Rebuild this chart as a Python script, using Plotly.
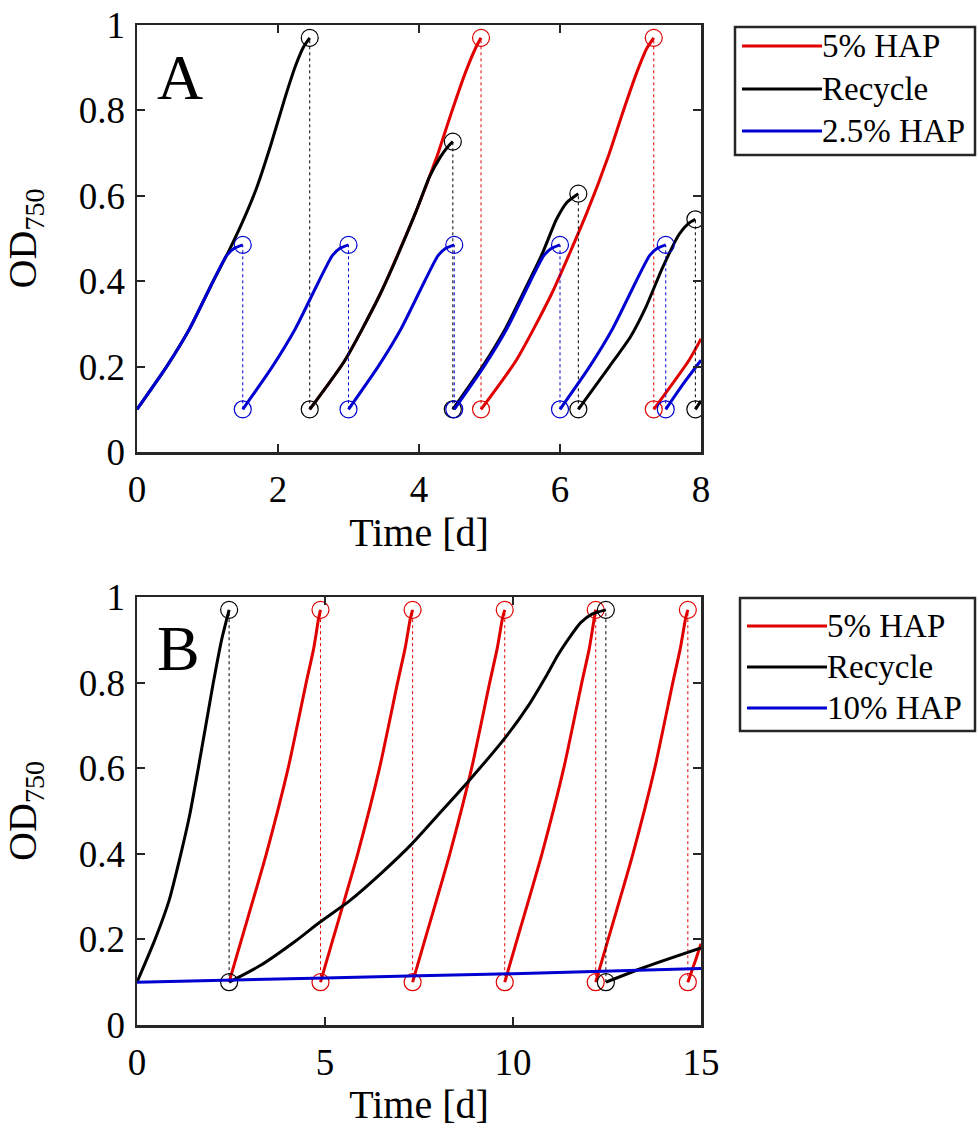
import plotly.graph_objects as go

# ---------------- colours ----------------
RED = "#e00000"
BLACK = "#000000"
BLUE = "#0000d0"
FRAME = "#262626"
FONT = "Liberation Serif, Times New Roman, DejaVu Serif, serif"

# ---------------- Panel A data (Time [d], OD750) ----------------
A_red_t = [[2.45, 2.95, 3.45, 3.95, 4.25, 4.45, 4.65, 4.8, 4.88],
           [4.88, 5.38, 5.88, 6.38, 6.68, 6.88, 7.08, 7.23, 7.33],
           [7.33, 7.83, 8.0]]
A_red_od = [[0.10, 0.215, 0.37, 0.56, 0.69, 0.79, 0.885, 0.945, 0.97],
            [0.10, 0.215, 0.37, 0.56, 0.69, 0.79, 0.885, 0.945, 0.97],
            [0.10, 0.215, 0.265]]
A_red_harvest_t = [4.88, 7.33]
A_red_harvest_top = [0.97, 0.97]

A_black_t = [[0, 0.42, 0.75, 1.08, 1.3, 1.5, 1.7, 1.9, 2.1, 2.25, 2.36, 2.45],
             [2.45, 2.95, 3.45, 3.95, 4.15, 4.3, 4.4, 4.48],
             [4.48, 4.9, 5.23, 5.56, 5.75, 5.95, 6.1, 6.26],
             [6.26, 6.7, 7.0, 7.22, 7.45, 7.69, 7.82, 7.92],
             [7.92, 8.0]]
A_black_od = [[0.10, 0.20, 0.29, 0.40, 0.47, 0.54, 0.62, 0.72, 0.83, 0.905, 0.948, 0.97],
              [0.10, 0.215, 0.37, 0.56, 0.645, 0.69, 0.713, 0.727],
              [0.10, 0.20, 0.29, 0.40, 0.465, 0.545, 0.585, 0.605],
              [0.10, 0.20, 0.27, 0.34, 0.43, 0.51, 0.535, 0.545],
              [0.10, 0.12]]
A_black_harvest_t = [2.45, 4.48, 6.26, 7.92]
A_black_harvest_top = [0.97, 0.727, 0.605, 0.545]

A_blue_t = [[0, 0.42, 0.75, 1.08, 1.27, 1.38, 1.5],
            [1.5, 1.92, 2.25, 2.58, 2.77, 2.88, 3.0],
            [3.0, 3.42, 3.75, 4.08, 4.27, 4.38, 4.5],
            [4.5, 4.92, 5.25, 5.58, 5.77, 5.88, 6.0],
            [6.0, 6.42, 6.75, 7.08, 7.27, 7.38, 7.5],
            [7.5, 7.75, 8.0]]
A_blue_od = [[0.10, 0.20, 0.29, 0.40, 0.46, 0.477, 0.485],
             [0.10, 0.20, 0.29, 0.40, 0.46, 0.477, 0.485],
             [0.10, 0.20, 0.29, 0.40, 0.46, 0.477, 0.485],
             [0.10, 0.20, 0.29, 0.40, 0.46, 0.477, 0.485],
             [0.10, 0.20, 0.29, 0.40, 0.46, 0.477, 0.485],
             [0.10, 0.16, 0.215]]
A_blue_harvest_t = [1.5, 3.0, 4.5, 6.0, 7.5]
A_blue_harvest_top = [0.485, 0.485, 0.485, 0.485, 0.485]

# ---------------- Panel B data ----------------
B_red_t = [[2.45, 2.78, 3.44, 4.02, 4.50, 4.70, 4.83, 4.88],
           [4.88, 5.21, 5.87, 6.45, 6.93, 7.13, 7.27, 7.33],
           [7.33, 7.66, 8.32, 8.90, 9.38, 9.58, 9.72, 9.78],
           [9.78, 10.11, 10.77, 11.35, 11.83, 12.03, 12.16, 12.2],
           [12.2, 12.53, 13.19, 13.77, 14.25, 14.45, 14.59, 14.65],
           [14.65, 14.85, 15.0]]
B_red_od = [[0.10, 0.20, 0.40, 0.60, 0.80, 0.88, 0.95, 0.97],
            [0.10, 0.20, 0.40, 0.60, 0.80, 0.88, 0.95, 0.97],
            [0.10, 0.20, 0.40, 0.60, 0.80, 0.88, 0.95, 0.97],
            [0.10, 0.20, 0.40, 0.60, 0.80, 0.88, 0.95, 0.97],
            [0.10, 0.20, 0.40, 0.60, 0.80, 0.88, 0.95, 0.97],
            [0.10, 0.15, 0.19]]
B_red_harvest_t = [4.88, 7.33, 9.78, 12.2, 14.65]
B_red_harvest_top = [0.97, 0.97, 0.97, 0.97, 0.97]

B_black_t = [[0, 0.48, 0.85, 1.14, 1.4, 1.63, 1.85, 2.03, 2.25, 2.45],
             [2.45, 3.3, 4.2, 4.86, 5.65, 6.5, 7.33, 8.0, 8.84, 9.8, 10.4, 10.88, 11.2, 11.5, 11.8, 12.1, 12.47],
             [12.47, 13.5, 15.0]]
B_black_od = [[0.10, 0.20, 0.29, 0.39, 0.49, 0.60, 0.71, 0.80, 0.90, 0.97],
              [0.10, 0.14, 0.195, 0.24, 0.29, 0.355, 0.425, 0.49, 0.572, 0.672, 0.745, 0.815, 0.865, 0.905, 0.94, 0.96, 0.97],
              [0.10, 0.135, 0.18]]
B_black_harvest_t = [2.45, 12.47]
B_black_harvest_top = [0.97, 0.97]

B_blue_t = [[0, 5, 10, 15]]
B_blue_od = [[0.10, 0.11, 0.12, 0.132]]
B_blue_harvest_t = []
B_blue_harvest_top = []

HARVEST_BOTTOM = 0.10

x_ticks_A = [0, 2, 4, 6, 8]
x_ticks_B = [0, 5, 10, 15]
y_ticks = [0, 0.2, 0.4, 0.6, 0.8, 1]
y_ticktext = ["0", "0.2", "0.4", "0.6", "0.8", "1"]

legend_A = ["5% HAP", "Recycle", "2.5% HAP"]
legend_B = ["5% HAP", "Recycle", "10% HAP"]

# ---------------- figure ----------------
W, H = 978, 1128
fig = go.Figure()


def px(xp):
    return xp / W


def py(yp):
    return 1 - yp / H


def join(segs):
    out = []
    for i, s in enumerate(segs):
        if i:
            out.append(None)
        out.extend(s)
    return out


def add_series(ts, ods, ht, htop, color, xa, ya):
    fig.add_trace(go.Scatter(x=join(ts), y=join(ods), mode="lines",
                             line=dict(color=color, width=3, shape="spline", smoothing=0.6),
                             xaxis=xa, yaxis=ya, showlegend=False, hoverinfo="skip"))
    if ht:
        dx, dy = [], []
        for t, top in zip(ht, htop):
            dx += [t, t, None]
            dy += [HARVEST_BOTTOM, top, None]
        fig.add_trace(go.Scatter(x=dx, y=dy, mode="lines",
                                 line=dict(color=color, width=1, dash="dot"),
                                 xaxis=xa, yaxis=ya, showlegend=False, hoverinfo="skip"))
        mx = list(ht) + list(ht)
        my = list(htop) + [HARVEST_BOTTOM] * len(ht)
        fig.add_trace(go.Scatter(x=mx, y=my, mode="markers",
                                 marker=dict(symbol="circle-open", size=17, color=color,
                                             line=dict(width=1.2, color=color)),
                                 xaxis=xa, yaxis=ya, showlegend=False, hoverinfo="skip"))


add_series(A_red_t, A_red_od, A_red_harvest_t, A_red_harvest_top, RED, "x", "y")
add_series(A_black_t, A_black_od, A_black_harvest_t, A_black_harvest_top, BLACK, "x", "y")
add_series(A_blue_t, A_blue_od, A_blue_harvest_t, A_blue_harvest_top, BLUE, "x", "y")

add_series(B_red_t, B_red_od, B_red_harvest_t, B_red_harvest_top, RED, "x2", "y2")
add_series(B_black_t, B_black_od, B_black_harvest_t, B_black_harvest_top, BLACK, "x2", "y2")
add_series(B_blue_t, B_blue_od, B_blue_harvest_t, B_blue_harvest_top, BLUE, "x2", "y2")

x_dom = [px(137), px(701)]
yA_dom = [py(452), py(25)]
yB_dom = [py(1025), py(597)]

tickfont = dict(family=FONT, size=37, color="black")
titlefont = dict(family=FONT, size=40, color="black")

common = dict(showline=True, linewidth=2.5, linecolor=FRAME, mirror="ticks",
              ticks="inside", ticklen=8, tickwidth=2, tickcolor=FRAME,
              showgrid=False, zeroline=False, tickfont=tickfont, automargin=False,
              ticklabeloverflow="allow")

fig.update_layout(
    width=W, height=H, margin=dict(l=0, r=0, t=0, b=0),
    paper_bgcolor="white", plot_bgcolor="white",
    font=dict(family=FONT, color="black"),
    xaxis=dict(domain=x_dom, range=[0, 8], tickvals=x_ticks_A, anchor="y",
               ticklabelstandoff=3,
               title=dict(text="Time [d]", font=titlefont, standoff=8), **common),
    yaxis=dict(domain=yA_dom, range=[0, 1], tickvals=y_ticks, ticktext=y_ticktext, anchor="x",
               ticklabelstandoff=2,
               title=dict(text="OD<sub>750</sub>", font=titlefont, standoff=32), **common),
    xaxis2=dict(domain=x_dom, range=[0, 15], tickvals=x_ticks_B, anchor="y2",
                ticklabelstandoff=3,
                title=dict(text="Time [d]", font=titlefont, standoff=8), **common),
    yaxis2=dict(domain=yB_dom, range=[0, 1], tickvals=y_ticks, ticktext=y_ticktext, anchor="x2",
                ticklabelstandoff=2,
                title=dict(text="OD<sub>750</sub>", font=titlefont, standoff=32), **common),
)

# panel letters
fig.add_annotation(text="A", x=px(180), y=py(77), xref="paper", yref="paper",
                   xanchor="center", yanchor="middle",
                   showarrow=False, font=dict(family=FONT, size=64, color="black"))
fig.add_annotation(text="B", x=px(178), y=py(648), xref="paper", yref="paper",
                   xanchor="center", yanchor="middle",
                   showarrow=False, font=dict(family=FONT, size=64, color="black"))


# manual legends (MATLAB style)
def legend_box(x0, x1, y0, y1, rows, labels, line_x0, line_x1, text_x):
    fig.add_shape(type="rect", xref="paper", yref="paper",
                  x0=px(x0), x1=px(x1), y0=py(y1), y1=py(y0),
                  line=dict(color=FRAME, width=2.5), fillcolor="white")
    for ry, lab, col in zip(rows, labels, [RED, BLACK, BLUE]):
        fig.add_shape(type="line", xref="paper", yref="paper",
                      x0=px(line_x0), x1=px(line_x1), y0=py(ry), y1=py(ry),
                      line=dict(color=col, width=3))
        fig.add_annotation(text=lab, x=px(text_x), y=py(ry), xref="paper", yref="paper",
                           xanchor="left", yanchor="middle", showarrow=False, borderpad=0,
                           font=dict(family=FONT, size=33, color="black"))


legend_box(735, 975, 27, 155, [46, 89, 131], legend_A, 742, 822, 821)
legend_box(740, 975, 598, 731, [626, 667, 708], legend_B, 747, 827, 826)

# remove the default 8 px page margin so the figure fills the window exactly
fig.write_html("out.html",
               config={"displayModeBar": False, "staticPlot": True},
               post_script="document.body.style.margin='0px';document.body.style.overflow='hidden';")
